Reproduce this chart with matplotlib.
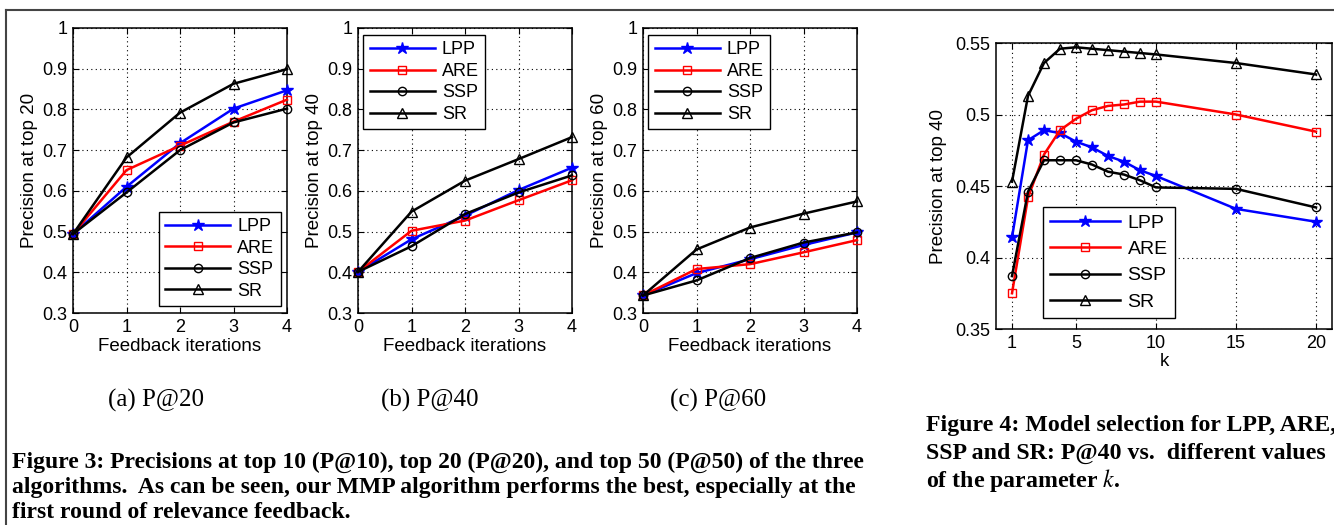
#!/usr/bin/env python3
"""Relevance feedback precision curves (Fig. 3) and model selection over k (Fig. 4)."""

import matplotlib

matplotlib.use("Agg")
import matplotlib.pyplot as plt
from matplotlib.lines import Line2D
import numpy as np


# ---- data ----
METHODS = ["LPP", "ARE", "SSP", "SR"]
ITERS = [0, 1, 2, 3, 4]

P20 = {
    "LPP": [0.494, 0.610, 0.717, 0.802, 0.847],
    "ARE": [0.494, 0.651, 0.711, 0.770, 0.824],
    "SSP": [0.494, 0.596, 0.700, 0.768, 0.802],
    "SR": [0.494, 0.682, 0.792, 0.863, 0.899],
}
P40 = {
    "LPP": [0.401, 0.481, 0.539, 0.602, 0.657],
    "ARE": [0.401, 0.502, 0.527, 0.577, 0.626],
    "SSP": [0.401, 0.464, 0.543, 0.596, 0.638],
    "SR": [0.401, 0.549, 0.625, 0.678, 0.732],
}
P60 = {
    "LPP": [0.343, 0.398, 0.432, 0.467, 0.498],
    "ARE": [0.343, 0.408, 0.420, 0.449, 0.479],
    "SSP": [0.343, 0.380, 0.435, 0.473, 0.498],
    "SR": [0.343, 0.456, 0.510, 0.544, 0.574],
}

K_VALUES = [1, 2, 3, 4, 5, 6, 7, 8, 9, 10, 15, 20]
P40_BY_K = {
    "LPP": [0.414, 0.482, 0.489, 0.487, 0.481, 0.477, 0.471, 0.467, 0.461, 0.457, 0.434, 0.425],
    "ARE": [0.375, 0.442, 0.472, 0.489, 0.497, 0.503, 0.506, 0.507, 0.509, 0.509, 0.500, 0.488],
    "SSP": [0.387, 0.446, 0.468, 0.468, 0.468, 0.465, 0.460, 0.458, 0.454, 0.449, 0.448, 0.435],
    "SR": [0.453, 0.513, 0.536, 0.546, 0.547, 0.546, 0.545, 0.544, 0.543, 0.542, 0.536, 0.528],
}

PANEL_LABELS = ["(a) P@20", "(b) P@40", "(c) P@60"]
PANEL_YLABELS = ["Precision at top 20", "Precision at top 40", "Precision at top 60"]

CAPTION_3 = [
    "Figure 3: Precisions at top 10 (P@10), top 20 (P@20), and top 50 (P@50) of the three",
    "algorithms.  As can be seen, our MMP algorithm performs the best, especially at the",
    "first round of relevance feedback.",
]
CAPTION_4 = [
    "Figure 4: Model selection for LPP, ARE,",
    "SSP and SR: P@40 vs.  different values",
    r"of the parameter $k$.",
]

STYLES = {
    "LPP": dict(color="#0000FF", marker="*", markersize=9, markerfacecolor="#0000FF"),
    "ARE": dict(color="#FF0000", marker="s", markersize=5.5, markerfacecolor="none"),
    "SSP": dict(color="#000000", marker="o", markersize=6, markerfacecolor="none"),
    "SR": dict(color="#000000", marker="^", markersize=6.5, markerfacecolor="none"),
}

SANS = "Liberation Sans"
SERIF = "Liberation Serif"


def configure_style():
    plt.rcParams.update(
        {
            "font.family": SANS,
            "font.size": 12.5,
            "axes.linewidth": 1.1,
            "xtick.direction": "in",
            "ytick.direction": "in",
            "xtick.top": True,
            "ytick.right": True,
            "xtick.major.size": 4,
            "ytick.major.size": 4,
            "mathtext.fontset": "stix",
        }
    )


def style_axis(ax):
    ax.grid(True, linestyle=(0, (1, 3)), color="black", linewidth=0.8)
    ax.set_axisbelow(True)
    ax.tick_params(labelsize=13, pad=4)


def add_legend(ax, loc, anchor, fontsize=13, spacing=0.25):
    leg = ax.legend(
        loc=loc,
        bbox_to_anchor=anchor,
        frameon=True,
        fancybox=False,
        framealpha=1,
        edgecolor="black",
        fontsize=fontsize,
        handlelength=3.6,
        handletextpad=0.4,
        labelspacing=spacing,
        borderpad=0.35,
        borderaxespad=0.0,
    )
    leg.get_frame().set_linewidth(1.0)


def plot_lines(ax, xs, data):
    for m in METHODS:
        ax.plot(xs, data[m], linewidth=1.8, label=m, clip_on=False, zorder=3, **STYLES[m])


def plot_iter_panel(ax, data, ylabel):
    plot_lines(ax, ITERS, data)
    ax.set_xlim(0, 4)
    ax.set_ylim(0.3, 1.0)
    ax.set_xticks(ITERS)
    ax.set_yticks(np.arange(0.3, 1.01, 0.1))
    ax.set_yticklabels(["0.3", "0.4", "0.5", "0.6", "0.7", "0.8", "0.9", "1"])
    ax.set_xlabel("Feedback iterations", fontsize=13.5, labelpad=2)
    ax.set_ylabel(ylabel, fontsize=13.5, labelpad=3)
    style_axis(ax)


def main():
    configure_style()
    fig = plt.figure(figsize=(13.34, 5.25), dpi=100)

    # page frame around the figures
    fig.add_artist(Line2D([0.0045, 1.0], [0.981, 0.981], transform=fig.transFigure,
                          color="#444444", linewidth=1.5))
    fig.add_artist(Line2D([0.0045, 0.0045], [0.0, 0.981], transform=fig.transFigure,
                          color="#444444", linewidth=1.5))

    lefts = [73, 358, 643]
    panels = [P20, P40, P60]
    legend_pos = [("lower right", (0.97, 0.025)), ("upper left", (0.025, 0.975)),
                  ("upper left", (0.025, 0.975))]
    centers = [156, 430, 718]
    for i in range(3):
        ax = fig.add_axes([lefts[i] / 1334, 1 - 313 / 525, 214 / 1334, 285 / 525])
        plot_iter_panel(ax, panels[i], PANEL_YLABELS[i])
        add_legend(ax, *legend_pos[i])
        fig.text(centers[i] / 1334, 1 - 400 / 525, PANEL_LABELS[i], family=SERIF,
                 fontsize=18, ha="center", va="center")

    ax4 = fig.add_axes([996 / 1334, 1 - 329 / 525, 336 / 1334, 286 / 525])
    plot_lines(ax4, K_VALUES, P40_BY_K)
    ax4.set_xlim(0, 21)
    ax4.set_ylim(0.35, 0.55)
    ax4.set_xticks([1, 5, 10, 15, 20])
    ax4.set_yticks([0.35, 0.4, 0.45, 0.5, 0.55])
    ax4.set_yticklabels(["0.35", "0.4", "0.45", "0.5", "0.55"])
    ax4.set_xlabel("k", fontsize=13.5, labelpad=1)
    ax4.set_ylabel("Precision at top 40", fontsize=13.5, labelpad=6)
    style_axis(ax4)
    add_legend(ax4, "lower left", (0.14, 0.04), fontsize=14, spacing=0.45)

    for j, line in enumerate(CAPTION_3):
        fig.text(12 / 1334, 1 - (462 + 25.5 * j) / 525, line, family=SERIF,
                 fontweight="bold", fontsize=17, ha="left", va="center")
    for j, line in enumerate(CAPTION_4):
        fig.text(926 / 1334, 1 - (426 + 27.5 * j) / 525, line, family=SERIF,
                 fontweight="bold", fontsize=17.2, ha="left", va="center")

    fig.savefig("out.png", dpi=100, facecolor="white")
    plt.close(fig)


if __name__ == "__main__":
    main()
